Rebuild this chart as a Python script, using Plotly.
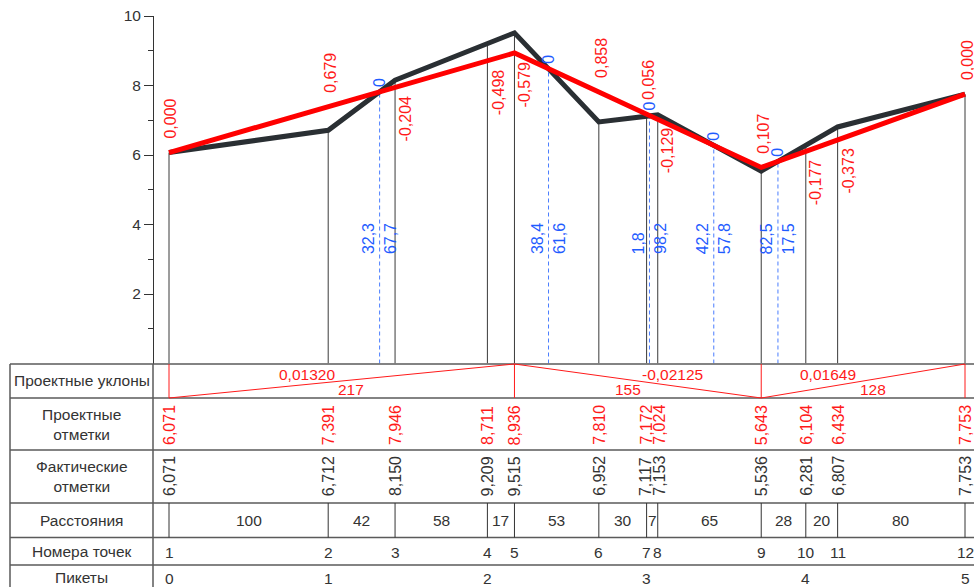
import numpy as np
import plotly.graph_objects as go

# ---------------- data ----------------
distances = [100, 42, 58, 17, 53, 30, 7, 65, 28, 20, 80]
actual = [6.071, 6.712, 8.150, 9.209, 9.515, 6.952, 7.117, 7.153, 5.536, 6.281, 6.807, 7.753]
design = [6.071, 7.391, 7.946, 8.711, 8.936, 7.810, 7.172, 7.024, 5.643, 6.104, 6.434, 7.753]
work_marks = [0.000, 0.679, -0.204, -0.498, -0.579, 0.858, 0.056, -0.129, 0.107, -0.177, -0.373, 0.000]
point_numbers = [1, 2, 3, 4, 5, 6, 7, 8, 9, 10, 11, 12]
pickets = [0, 1, 2, 3, 4, 5]
picket_step = 100
zero_picket = [1, 2, 3, 3, 3]
zero_left = [32.3, 38.4, 1.8, 42.2, 82.5]
zero_right = [67.7, 61.6, 98.2, 57.8, 17.5]
slopes = [0.01320, -0.02125, 0.01649]
slope_lengths = [217, 155, 128]
row_titles = ["Проектные уклоны", "Проектные<br>отметки", "Фактические<br>отметки",
              "Расстояния", "Номера точек", "Пикеты"]
y_ticks = [2, 4, 6, 8, 10]
y_minor = [1, 3, 5, 7, 9]

# ---------------- geometry ----------------
W, H = 974, 587
X0_PX, X1_PX = 169, 965
xs = np.concatenate([[0], np.cumsum(distances)]).astype(float)
total = xs[-1]
scale = (X1_PX - X0_PX) / total
x_range = [-X0_PX / scale, (W - X0_PX) / scale]
Y_TOP_PX, Y_ZERO_PX = 16, 363.5
row_edges = [364, 398, 450, 503, 537.5, 565, 587]
TABLE_LEFT, LABEL_RIGHT = 10, 153


def pp(py):
    return 1 - py / H


def fmt(v, d=3):
    return f"{v:.{d}f}".replace(".", ",")


# small horizontal spread for labels of points that lie very close together
spread = [0.0] * len(xs)
for i in range(len(xs) - 1):
    if (xs[i + 1] - xs[i]) * scale < 14:
        spread[i] -= 1.0
        spread[i + 1] += 1.0

FONT = "Liberation Sans, Arial, sans-serif"
RED = "#ff1a1a"
BLUE = "#1f5cff"
DARK = "#333333"
GRID = "#5a5a5a"

fig = go.Figure()

# vertical lines from 0 up to actual profile
vx, vy = [], []
for x, a in zip(xs, actual):
    vx += [x, x, None]
    vy += [0, a, None]
fig.add_trace(go.Scatter(x=vx, y=vy, mode="lines", line=dict(color="#3a3a3a", width=1),
                         hoverinfo="skip", showlegend=False))

# zero points
zx = np.array([p * picket_step + l for p, l in zip(zero_picket, zero_left)])
zy = np.interp(zx, xs, design)
bx, by = [], []
for x, y in zip(zx, zy):
    bx += [x, x, None]
    by += [0, y, None]
fig.add_trace(go.Scatter(x=bx, y=by, mode="lines",
                         line=dict(color="#4a7dff", width=1, dash="4px,3px"),
                         hoverinfo="skip", showlegend=False))

# profiles
fig.add_trace(go.Scatter(x=xs, y=actual, mode="lines", line=dict(color="#2a2f33", width=5),
                         hoverinfo="skip", showlegend=False))
fig.add_trace(go.Scatter(x=xs, y=design, mode="lines", line=dict(color="#ff0000", width=5),
                         hoverinfo="skip", showlegend=False))

shapes = []
ann = []

# table horizontal lines
for e in row_edges[:-1]:
    shapes.append(dict(type="line", xref="paper", yref="paper", x0=TABLE_LEFT / W, x1=1,
                       y0=pp(e), y1=pp(e), line=dict(color=GRID, width=1.5)))
for xp in [TABLE_LEFT, LABEL_RIGHT]:
    shapes.append(dict(type="line", xref="paper", yref="paper", x0=xp / W, x1=xp / W,
                       y0=pp(row_edges[0]), y1=0, line=dict(color=GRID, width=1.5)))

# row titles
for i, t in enumerate(row_titles):
    yc = (row_edges[i] + row_edges[i + 1]) / 2
    if i == 5:
        yc = 577
    ann.append(dict(xref="paper", yref="paper", x=(TABLE_LEFT + LABEL_RIGHT) / 2 / W, y=pp(yc),
                    text=t, showarrow=False, font=dict(family=FONT, size=15.5, color=DARK),
                    xanchor="center", yanchor="middle"))

# design slopes row
bp = np.concatenate([[0], np.cumsum(slope_lengths)]).astype(float)
top, bot = pp(row_edges[0]), pp(row_edges[1])
for x in bp:
    shapes.append(dict(type="line", xref="x", yref="paper", x0=x, x1=x, y0=top, y1=bot,
                       line=dict(color=RED, width=1)))
for i, (s, L) in enumerate(zip(slopes, slope_lengths)):
    x0, x1 = bp[i], bp[i + 1]
    if s > 0:
        y0, y1 = bot, top
    else:
        y0, y1 = top, bot
    shapes.append(dict(type="line", xref="x", yref="paper", x0=x0, x1=x1, y0=y0, y1=y1,
                       line=dict(color=RED, width=1)))
    mid = (x0 + x1) / 2
    sg = 1 if s > 0 else -1
    ann.append(dict(xref="x", yref="paper", x=mid - sg * 22, y=pp(374), text=fmt(s, 5),
                    showarrow=False, font=dict(family=FONT, size=15.5, color=RED),
                    xanchor="center", yanchor="middle"))
    ann.append(dict(xref="x", yref="paper", x=mid + sg * 6, y=pp(389), text=str(L),
                    showarrow=False, font=dict(family=FONT, size=15.5, color=RED),
                    xanchor="center", yanchor="middle"))

# elevations rows
for x, d, a, sp in zip(xs, design, actual, spread):
    ann.append(dict(xref="x", yref="paper", x=x, y=pp(447), text=fmt(d), textangle=-90,
                    showarrow=False, font=dict(family=FONT, size=16, color=RED),
                    xanchor="center", yanchor="bottom", xshift=sp))
    ann.append(dict(xref="x", yref="paper", x=x, y=pp(498), text=fmt(a), textangle=-90,
                    showarrow=False, font=dict(family=FONT, size=16, color=DARK),
                    xanchor="center", yanchor="bottom", xshift=sp))

# distances row
for x in xs:
    shapes.append(dict(type="line", xref="x", yref="paper", x0=x, x1=x,
                       y0=pp(row_edges[3]), y1=pp(row_edges[4]), line=dict(color=DARK, width=1)))
for i, dd in enumerate(distances):
    ann.append(dict(xref="x", yref="paper", x=(xs[i] + xs[i + 1]) / 2, y=pp(520), text=str(dd),
                    showarrow=False, font=dict(family=FONT, size=15.5, color=DARK),
                    xanchor="center", yanchor="middle"))

# point numbers
for x, n in zip(xs, point_numbers):
    ann.append(dict(xref="x", yref="paper", x=x, y=pp(552), text=str(n), showarrow=False,
                    font=dict(family=FONT, size=15.5, color=DARK), xanchor="center", yanchor="middle"))
# pickets
for p in pickets:
    ann.append(dict(xref="x", yref="paper", x=p * picket_step, y=pp(578), text=str(p),
                    showarrow=False, font=dict(family=FONT, size=15.5, color=DARK),
                    xanchor="center", yanchor="middle"))

# working marks
for x, d, w in zip(xs, design, work_marks):
    if w >= 0:
        ann.append(dict(xref="x", yref="y", x=x, y=d, text=fmt(w), textangle=-90, showarrow=False,
                        font=dict(family=FONT, size=16, color=RED), xanchor="center",
                        yanchor="bottom", xshift=2, yshift=12))
    else:
        ann.append(dict(xref="x", yref="y", x=x, y=d, text=fmt(w), textangle=-90, showarrow=False,
                        font=dict(family=FONT, size=16, color=RED), xanchor="center",
                        yanchor="top", xshift=10.5, yshift=-7))

# zero point labels
for x, y, l, r in zip(zx, zy, zero_left, zero_right):
    ann.append(dict(xref="x", yref="y", x=x, y=y, text="0", textangle=-90, showarrow=False,
                    font=dict(family=FONT, size=16, color=BLUE), xanchor="center",
                    yanchor="bottom", yshift=3))
    ann.append(dict(xref="x", yref="paper", x=x, y=pp(256), text=fmt(l, 1), textangle=-90,
                    showarrow=False, font=dict(family=FONT, size=16, color=BLUE),
                    xanchor="center", yanchor="bottom", xshift=-11))
    ann.append(dict(xref="x", yref="paper", x=x, y=pp(256), text=fmt(r, 1), textangle=-90,
                    showarrow=False, font=dict(family=FONT, size=16, color=BLUE),
                    xanchor="center", yanchor="bottom", xshift=11))

fig.update_layout(
    width=W, height=H, margin=dict(l=0, r=0, t=0, b=0, pad=0),
    paper_bgcolor="white", plot_bgcolor="white", showlegend=False,
    xaxis=dict(domain=[0, 1], range=x_range, visible=False, fixedrange=True, automargin=False),
    yaxis=dict(domain=[pp(Y_ZERO_PX), pp(Y_TOP_PX)], range=[0, 10], anchor="free",
               position=LABEL_RIGHT / W, showgrid=False, zeroline=False, automargin=False,
               showline=True, linecolor=DARK, linewidth=1,
               ticks="outside", ticklen=9, tickwidth=1, tickcolor=DARK,
               tickmode="array", tickvals=y_ticks, ticktext=[str(v) for v in y_ticks],
               tickfont=dict(family=FONT, size=15.5, color=DARK),
               minor=dict(ticks="outside", ticklen=5, tickwidth=1, tickcolor=DARK,
                          tickmode="array", tickvals=y_minor, showgrid=False),
               fixedrange=True),
    shapes=shapes, annotations=ann,
)

fig.write_html("out.html")
